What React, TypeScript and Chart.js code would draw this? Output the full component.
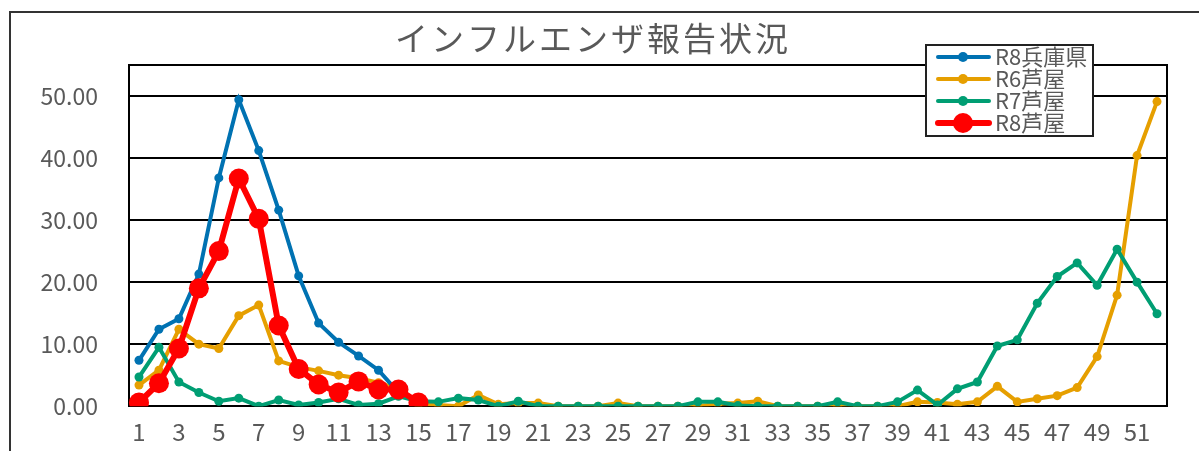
import React, { useEffect, useRef } from "react";
import { Chart, registerables } from "chart.js";

Chart.register(...registerables);

const TITLE = "インフルエンザ報告状況";
const WEEKS: string[] = Array.from({ length: 52 }, (_, i) => String(i + 1));
const Y_TICKS: number[] = [0, 10, 20, 30, 40, 50];

const NAME_R8_HYOGO = "R8兵庫県";
const NAME_R6_ASHIYA = "R6芦屋";
const NAME_R7_ASHIYA = "R7芦屋";
const NAME_R8_ASHIYA = "R8芦屋";

const R8_HYOGO: (number | null)[] = [
  7.4, 12.4, 14.1, 21.3, 36.8, 49.4, 41.2, 31.6, 21.0, 13.4, 10.3, 8.1, 5.8, 2.2,
];
const R8_ASHIYA: (number | null)[] = [
  0.6, 3.7, 9.3, 19.0, 25.0, 36.7, 30.2, 13.0, 6.0, 3.5, 2.2, 4.0, 2.7, 2.7, 0.6,
];
const R6_ASHIYA: (number | null)[] = [
  3.4, 5.8, 12.4, 10.0, 9.3, 14.6, 16.3, 7.3, 6.3, 5.7,
  5.0, 4.5, 3.8, 2.8, 0.3, 0.2, 0.0, 1.8, 0.3, 0.5,
  0.5, 0.0, 0.0, 0.0, 0.5, 0.0, 0.0, 0.0, 0.0, 0.4,
  0.5, 0.8, 0.0, 0.0, 0.0, 0.0, 0.0, 0.0, 0.0, 0.7,
  0.6, 0.3, 0.7, 3.2, 0.7, 1.2, 1.7, 3.0, 8.0, 17.9,
  40.4, 49.1,
];
const R7_ASHIYA: (number | null)[] = [
  4.7, 9.5, 3.9, 2.2, 0.8, 1.3, 0.0, 1.0, 0.2, 0.6,
  1.2, 0.2, 0.4, 1.6, 0.8, 0.7, 1.3, 1.0, 0.0, 0.8,
  0.0, 0.0, 0.0, 0.0, 0.0, 0.0, 0.0, 0.0, 0.7, 0.7,
  0.1, 0.0, 0.0, 0.0, 0.0, 0.7, 0.0, 0.0, 0.7, 2.6,
  0.2, 2.8, 3.9, 9.7, 10.7, 16.6, 20.9, 23.1, 19.5, 25.3,
  20.0, 14.9,
];

const BLUE = "#0072B2";
const YELLOW = "#E69F00";
const GREEN = "#009E73";
const RED = "#FF0000";
const TEXT = "#595959";
const CJK = '"Noto Sans CJK JP", sans-serif';

const LEGEND_ITEMS = [
  { name: NAME_R8_HYOGO, color: BLUE, lw: 4, r: 5 },
  { name: NAME_R6_ASHIYA, color: YELLOW, lw: 4, r: 5 },
  { name: NAME_R7_ASHIYA, color: GREEN, lw: 4, r: 5 },
  { name: NAME_R8_ASHIYA, color: RED, lw: 6, r: 10 },
];

const decor = {
  id: "decor",
  afterDraw(chart: any) {
    const ctx = chart.ctx as CanvasRenderingContext2D;
    const a = chart.chartArea;
    ctx.save();
    ctx.strokeStyle = "#333333";
    ctx.lineWidth = 2;
    ctx.beginPath();
    ctx.moveTo(10, 460);
    ctx.lineTo(10, 12);
    ctx.lineTo(1210, 12);
    ctx.stroke();
    ctx.strokeStyle = "#000000";
    ctx.lineWidth = 2;
    ctx.beginPath();
    ctx.moveTo(a.left, a.top);
    ctx.lineTo(a.right, a.top);
    ctx.lineTo(a.right, a.bottom);
    ctx.stroke();
    ctx.fillStyle = TEXT;
    ctx.font = `33px ${CJK}`;
    (ctx as any).letterSpacing = "3px";
    ctx.textAlign = "center";
    ctx.textBaseline = "middle";
    ctx.fillText(TITLE, 593, 38);
    (ctx as any).letterSpacing = "0px";
    const bx = 926, by = 45, bw = 167, bh = 91;
    ctx.fillStyle = "#ffffff";
    ctx.fillRect(bx, by, bw, bh);
    ctx.strokeStyle = "#222222";
    ctx.lineWidth = 2;
    ctx.strokeRect(bx, by, bw, bh);
    ctx.font = `22px ${CJK}`;
    ctx.textAlign = "left";
    ctx.textBaseline = "middle";
    LEGEND_ITEMS.forEach((it, i) => {
      const y = 57 + i * 22;
      ctx.strokeStyle = it.color;
      ctx.lineWidth = it.lw;
      ctx.lineCap = "round";
      ctx.beginPath();
      ctx.moveTo(938, y);
      ctx.lineTo(989, y);
      ctx.stroke();
      ctx.fillStyle = it.color;
      ctx.beginPath();
      ctx.arc(963, y, it.r, 0, Math.PI * 2);
      ctx.fill();
      ctx.fillStyle = TEXT;
      ctx.fillText(it.name, 995, y);
    });
    ctx.restore();
  },
};

export default function App() {
  const ref = useRef<HTMLCanvasElement>(null);
  useEffect(() => {
    if (!ref.current) return;
    const mk = (label: string, data: (number | null)[], color: string, lw: number, r: number) => ({
      label,
      data,
      borderColor: color,
      backgroundColor: color,
      pointBackgroundColor: color,
      pointBorderColor: color,
      pointBorderWidth: 0,
      borderWidth: lw,
      pointRadius: r,
      pointHoverRadius: r,
      tension: 0,
      spanGaps: false,
    });
    const chart = new Chart(ref.current, {
      type: "line",
      data: {
        labels: WEEKS,
        datasets: [
          mk(NAME_R8_ASHIYA, R8_ASHIYA, RED, 6, 10),
          mk(NAME_R8_HYOGO, R8_HYOGO, BLUE, 4, 4.5),
          mk(NAME_R7_ASHIYA, R7_ASHIYA, GREEN, 4, 4.5),
          mk(NAME_R6_ASHIYA, R6_ASHIYA, YELLOW, 4, 4.5),
        ],
      },
      options: {
        animation: false,
        responsive: true,
        maintainAspectRatio: false,
        layout: { padding: { left: 0, right: 32, top: 65, bottom: 0 } },
        plugins: {
          legend: { display: false },
          title: { display: false },
          tooltip: { enabled: false },
        },
        scales: {
          x: {
            offset: true,
            grid: { display: false, drawTicks: false },
            border: { display: true, color: "#000000", width: 2 },
            ticks: {
              autoSkip: false,
              maxRotation: 0,
              minRotation: 0,
              padding: 11,
              color: TEXT,
              font: { family: CJK, size: 24 },
              callback: (_v: any, i: number) => (i % 2 === 0 ? WEEKS[i] : ""),
            },
            afterFit: (s: any) => {
              s.height = 44;
            },
          },
          y: {
            min: 0,
            max: 55,
            grid: { color: "#000000", lineWidth: 2, drawTicks: false, tickLength: 0 },
            border: { display: true, color: "#000000", width: 2 },
            afterBuildTicks: (s: any) => {
              s.ticks = Y_TICKS.map((v) => ({ value: v }));
            },
            ticks: {
              padding: 31,
              color: TEXT,
              font: { family: CJK, size: 23 },
              callback: (v: any) => Number(v).toFixed(2),
            },
            afterFit: (s: any) => {
              s.width = 129;
            },
          },
        },
      },
      plugins: [decor],
    });
    return () => chart.destroy();
  }, []);
  return (
    <div style={{ position: "fixed", left: 0, top: 0, width: 1199, height: 451, background: "#fff" }}>
      <canvas ref={ref} />
    </div>
  );
}
